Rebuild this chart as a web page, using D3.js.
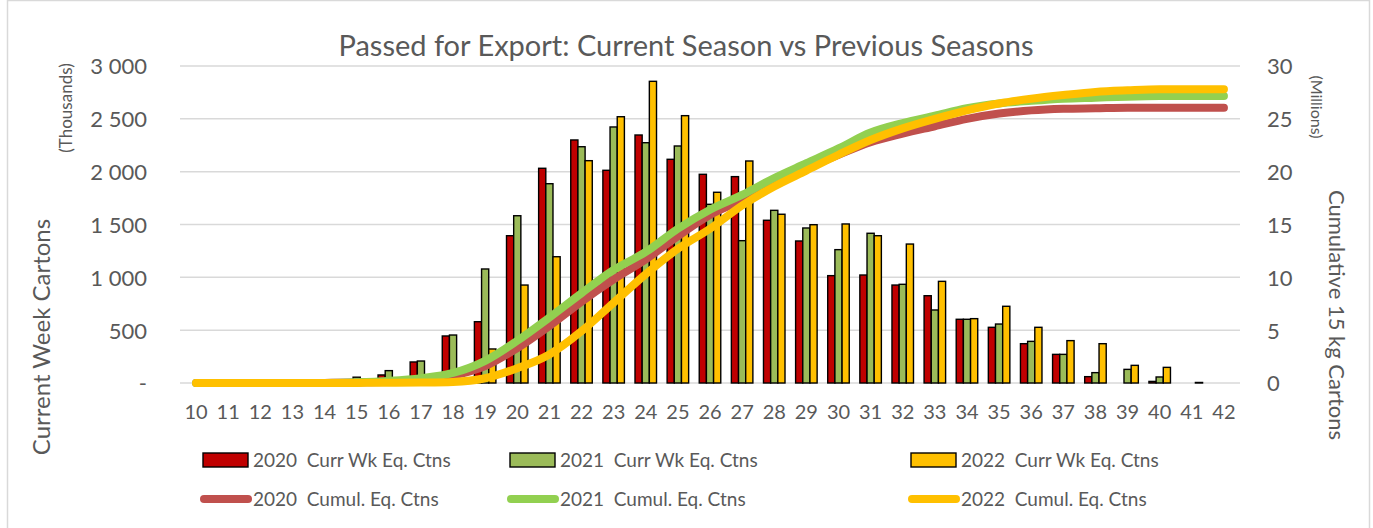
<!DOCTYPE html>
<html>
<head>
<meta charset="utf-8">
<script src="https://cdn.jsdelivr.net/npm/d3@7"></script>
<style>
  body { margin: 0; background: #fff; }
  text { font-family: Lato, "Open Sans", sans-serif; fill: #595959; white-space: pre; }
</style>
</head>
<body>
<svg id="chart" width="1373" height="528"></svg>
<script>
// weeks of the season
const weeks = ["10","11","12","13","14","15","16","17","18","19","20","21","22","23","24","25","26",
               "27","28","29","30","31","32","33","34","35","36","37","38","39","40","41","42"];

// current week cartons (thousands)
const wk2020 = [0,0,0,0,0,5,76,199,445,580,1394,2032,2300,2013,2347,2117,1975,
                1953,1540,1344,1016,1022,927,826,603,527,372,271,60,0,15,0,0];
const wk2021 = [0,0,0,0,0,55,117,208,454,1079,1583,1886,2236,2423,2274,2243,1691,
                1347,1634,1467,1262,1417,934,691,603,558,394,271,98,129,57,0,0];
const wk2022 = [0,0,0,0,0,0,5,10,30,322,927,1195,2104,2520,2855,2530,1805,
                2101,1597,1498,1505,1394,1315,962,609,726,527,401,372,167,148,5,0];

// cumulative 15 kg cartons (millions)
const cum2020 = [0,0,0,0,0.01,0.05,0.12,0.3,0.7,1.6,3.3,5.4,7.7,9.8,11.7,13.9,15.9,
                 17.3,18.9,20.3,21.6,22.8,23.6,24.3,25.0,25.5,25.8,25.95,26.0,26.05,26.05,26.05,26.05];
const cum2021 = [0,0,0,0,0.01,0.07,0.2,0.45,0.95,2.1,4.0,6.2,8.5,10.7,12.4,14.6,16.4,
                 17.8,19.4,20.8,22.2,23.7,24.6,25.3,26.0,26.45,26.7,26.9,27.0,27.1,27.15,27.15,27.15];
const cum2022 = [0,0,0,0,0,0.01,0.02,0.04,0.1,0.45,1.4,2.7,4.9,7.6,10.3,12.7,14.6,
                 16.8,18.6,20.1,21.6,23.0,24.1,25.0,25.8,26.45,26.9,27.25,27.55,27.7,27.8,27.8,27.8];

const leftTicks = [0, 500, 1000, 1500, 2000, 2500, 3000];
const leftTickLabels = ["-", "500", "1 000", "1 500", "2 000", "2 500", "3 000"];
const rightTicks = [0, 5, 10, 15, 20, 25, 30];

const barSeries = [
  { name: "2020  Curr Wk Eq. Ctns", values: wk2020, color: "#C00000" },
  { name: "2021  Curr Wk Eq. Ctns", values: wk2021, color: "#9BBB59" },
  { name: "2022  Curr Wk Eq. Ctns", values: wk2022, color: "#FFC000" }
];
const lineSeries = [
  { name: "2020  Cumul. Eq. Ctns", values: cum2020, color: "#C0504D" },
  { name: "2021  Cumul. Eq. Ctns", values: cum2021, color: "#92D050" },
  { name: "2022  Cumul. Eq. Ctns", values: cum2022, color: "#FFC000" }
];

const svg = d3.select("#chart");
const plot = { left: 180, right: 1240, top: 66, bottom: 383 };

// chart border
svg.append("rect")
  .attr("x", 7.5).attr("y", 0.5).attr("width", 1362).attr("height", 540)
  .attr("fill", "none").attr("stroke", "#d9d9d9").attr("stroke-width", 1.5);

const x = d3.scaleBand().domain(weeks).range([plot.left, plot.right])
  .paddingInner(0.33).paddingOuter(0.165);
const xSub = d3.scaleBand().domain(barSeries.map(s => s.name)).range([0, x.bandwidth()]);
const yLeft = d3.scaleLinear().domain([0, 3000]).range([plot.bottom, plot.top]);
const yRight = d3.scaleLinear().domain([0, 30]).range([plot.bottom, plot.top]);

// gridlines
svg.append("g").selectAll("line").data(leftTicks).join("line")
  .attr("x1", plot.left).attr("x2", plot.right)
  .attr("y1", d => yLeft(d)).attr("y2", d => yLeft(d))
  .attr("stroke", "#d9d9d9").attr("stroke-width", 1.5);

// left axis
const gLeft = svg.append("g").attr("transform", `translate(${plot.left - 33},0)`)
  .call(d3.axisLeft(yLeft).tickValues(leftTicks).tickSize(0).tickPadding(0)
    .tickFormat((d, i) => leftTickLabels[i]));
gLeft.select(".domain").remove();
gLeft.selectAll("text").attr("font-size", 22).attr("dy", "0.36em")
  .attr("font-family", null).attr("fill", null);

// right axis
const gRight = svg.append("g").attr("transform", `translate(${plot.right + 27},0)`)
  .call(d3.axisRight(yRight).tickValues(rightTicks).tickSize(0).tickPadding(0));
gRight.select(".domain").remove();
gRight.selectAll("text").attr("font-size", 22).attr("dy", "0.36em")
  .attr("font-family", null).attr("fill", null);

// x axis
const gX = svg.append("g").attr("transform", `translate(0,${plot.bottom})`)
  .call(d3.axisBottom(x).tickSize(0).tickPadding(0));
gX.select(".domain").remove();
gX.selectAll("text").attr("font-size", 20).attr("y", 36).attr("dy", 0)
  .attr("font-family", null).attr("fill", null);

// bars
svg.append("g").selectAll("g").data(barSeries).join("g")
  .attr("fill", s => s.color)
  .selectAll("rect").data(s => s.values.map((v, i) => ({ s: s.name, w: weeks[i], v })))
  .join("rect")
  .attr("x", d => x(d.w) + xSub(d.s))
  .attr("y", d => yLeft(d.v))
  .attr("width", xSub.bandwidth())
  .attr("height", d => yLeft(0) - yLeft(d.v))
  .attr("stroke", "#000").attr("stroke-width", 1.4);

// cumulative lines
const line = d3.line()
  .x((d, i) => x(weeks[i]) + x.bandwidth() / 2)
  .y(d => yRight(d))
  .curve(d3.curveMonotoneX);

svg.append("g").selectAll("path").data(lineSeries).join("path")
  .attr("d", s => line(s.values))
  .attr("fill", "none").attr("stroke", s => s.color)
  .attr("stroke-width", 8).attr("stroke-linecap", "round").attr("stroke-linejoin", "round");

// title
svg.append("text").attr("x", 686).attr("y", 56).attr("text-anchor", "middle")
  .attr("font-size", 29).text("Passed for Export: Current Season vs Previous Seasons");

// axis titles
svg.append("text").attr("transform", "translate(50,337) rotate(-90)")
  .attr("text-anchor", "middle").attr("font-size", 24).text("Current Week Cartons");
svg.append("text").attr("transform", "translate(72,108) rotate(-90)")
  .attr("text-anchor", "middle").attr("font-size", 17).text("(Thousands)");
svg.append("text").attr("transform", "translate(1311,107) rotate(90)")
  .attr("text-anchor", "middle").attr("font-size", 16).text("(Millions)");
svg.append("text").attr("transform", "translate(1329,315) rotate(90)")
  .attr("text-anchor", "middle").attr("font-size", 22).text("Cumulative 15 kg Cartons");

// legend
const legendCols = [203, 510, 911];
const legend = svg.append("g");
barSeries.forEach((s, i) => {
  const g = legend.append("g").attr("transform", `translate(${legendCols[i]},460)`);
  g.append("rect").attr("x", 0).attr("y", -7).attr("width", 45).attr("height", 14)
    .attr("fill", s.color).attr("stroke", "#000").attr("stroke-width", 1.4);
  g.append("text").attr("x", 50).attr("y", 7).attr("font-size", 19).text(s.name);
});
lineSeries.forEach((s, i) => {
  const g = legend.append("g").attr("transform", `translate(${legendCols[i]},499)`);
  g.append("line").attr("x1", 1).attr("x2", 45)
    .attr("stroke", s.color).attr("stroke-width", 8).attr("stroke-linecap", "round");
  g.append("text").attr("x", 50).attr("y", 7).attr("font-size", 19).text(s.name);
});
</script>
</body>
</html>
